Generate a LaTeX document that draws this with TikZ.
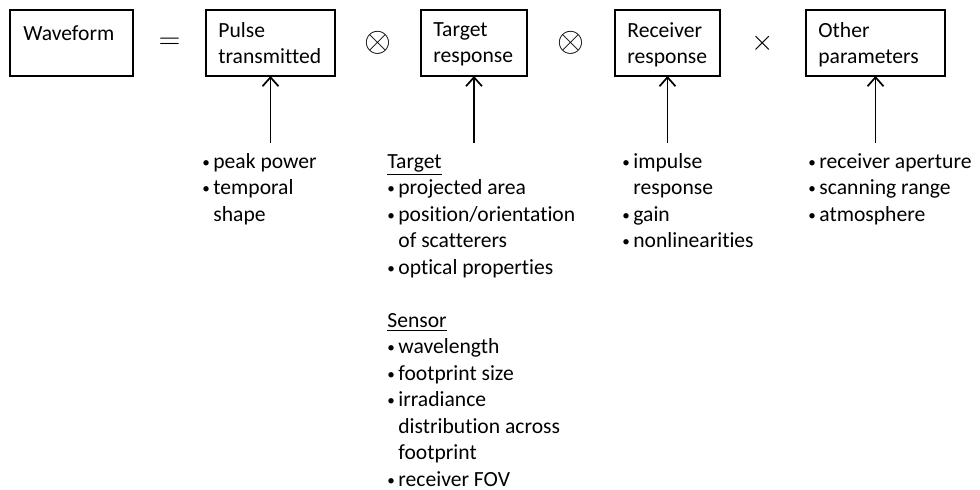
\documentclass[tikz,border=0pt]{standalone}
\usepackage{fontspec}
\setmainfont{Carlito}[Ligatures=NoCommon]
\usetikzlibrary{arrows.meta, positioning, calc}

\newcommand{\bul}{\makebox[5.5pt][l]{\raisebox{0.6pt}{\scalebox{0.7}{\textbullet}}}}
\newcommand{\cont}{\hspace*{5.5pt}}

\begin{document}
\begin{tikzpicture}[
        x=1pt, y=1pt,
        font=\fontsize{10.8}{13.25}\selectfont,
        box/.style={draw, line width=1pt, minimum height=33pt, inner sep=0pt, outer sep=0pt, anchor=north west},
        boxtext/.style={anchor=north west, align=left, inner sep=0pt, execute at begin node=\strut},
        op/.style={font=\fontsize{15}{15}\selectfont, inner sep=0pt},
        feed/.style={-{Straight Barb[length=4.5pt, width=8pt]}, line width=0.85pt},
        items/.style={anchor=north west, align=left, inner sep=0pt, execute at begin node=\strut}
    ]
        \useasboundingbox (0,0) rectangle (490,-245);

        % Terms of the product
        \node[box, minimum width=61.5pt] (wave) at (5,-5) {};
        \node[box, minimum width=64.5pt, right=36.5pt of wave] (pulse) {};
        \node[box, minimum width=53pt, right=43pt of pulse] (target) {};
        \node[box, minimum width=52.5pt, right=44pt of target] (receiver) {};
        \node[box, minimum width=69.5pt, right=43pt of receiver] (other) {};

        \node[boxtext] (wavetext) at ([xshift=6.5pt, yshift=-6pt]wave.north west) {Waveform};
        \node[boxtext] (pulsetext) at ([xshift=6pt, yshift=-6pt]pulse.north west) {Pulse\\transmitted};
        \node[boxtext] (targettext) at ([xshift=6pt, yshift=-6pt]target.north west) {Target\\response};
        \node[boxtext] (receivertext) at ([xshift=6pt, yshift=-6pt]receiver.north west) {Receiver\\response};
        \node[boxtext] (othertext) at ([xshift=6pt, yshift=-6pt]other.north west) {Other\\parameters};

        % Operators
        \node[op] (eq) at ($(wave.east)!0.5!(pulse.west)$) {$=$};
        \node[op, font=\fontsize{17}{17}\selectfont] (conv1) at ($(pulse.east)!0.5!(target.west)$) {$\otimes$};
        \node[op, font=\fontsize{17}{17}\selectfont] (conv2) at ($(target.east)!0.5!(receiver.west)$) {$\otimes$};
        \node[op] (times) at ($(receiver.east)!0.5!(other.west)$) {$\times$};

        % Feeding arrows
        \foreach \b in {pulse, target, receiver, other} {
            \coordinate (\b-foot) at ([yshift=-33.5pt]\b.south);
            \draw[feed] (\b-foot) -- (\b.south);
        }

        % Factor lists
        \node[items] (pulselist) at ([xshift=-34.25pt, yshift=-5pt]pulse-foot)
            {\bul peak power\\ \bul temporal\\ \cont shape};
        \node[items] (targetlist) at ([xshift=-43.5pt, yshift=-5.5pt]target-foot)
            {\underline{Target}\\ \bul projected area\\ \bul position/orientation\\ \cont of scatterers\\
             \bul optical properties\\[13.25pt] \underline{Sensor}\\ \bul wavelength\\ \bul footprint size\\
             \bul irradiance\\ \cont distribution across\\ \cont footprint\\ \bul receiver FOV};
        \node[items] (receiverlist) at ([xshift=-22.75pt, yshift=-5pt]receiver-foot)
            {\bul impulse\\ \cont response\\ \bul gain\\ \bul nonlinearities};
        \node[items] (otherlist) at ([xshift=-33.75pt, yshift=-5pt]other-foot)
            {\bul receiver aperture\\ \bul scanning range\\ \bul atmosphere};

    \end{tikzpicture}
\end{document}
